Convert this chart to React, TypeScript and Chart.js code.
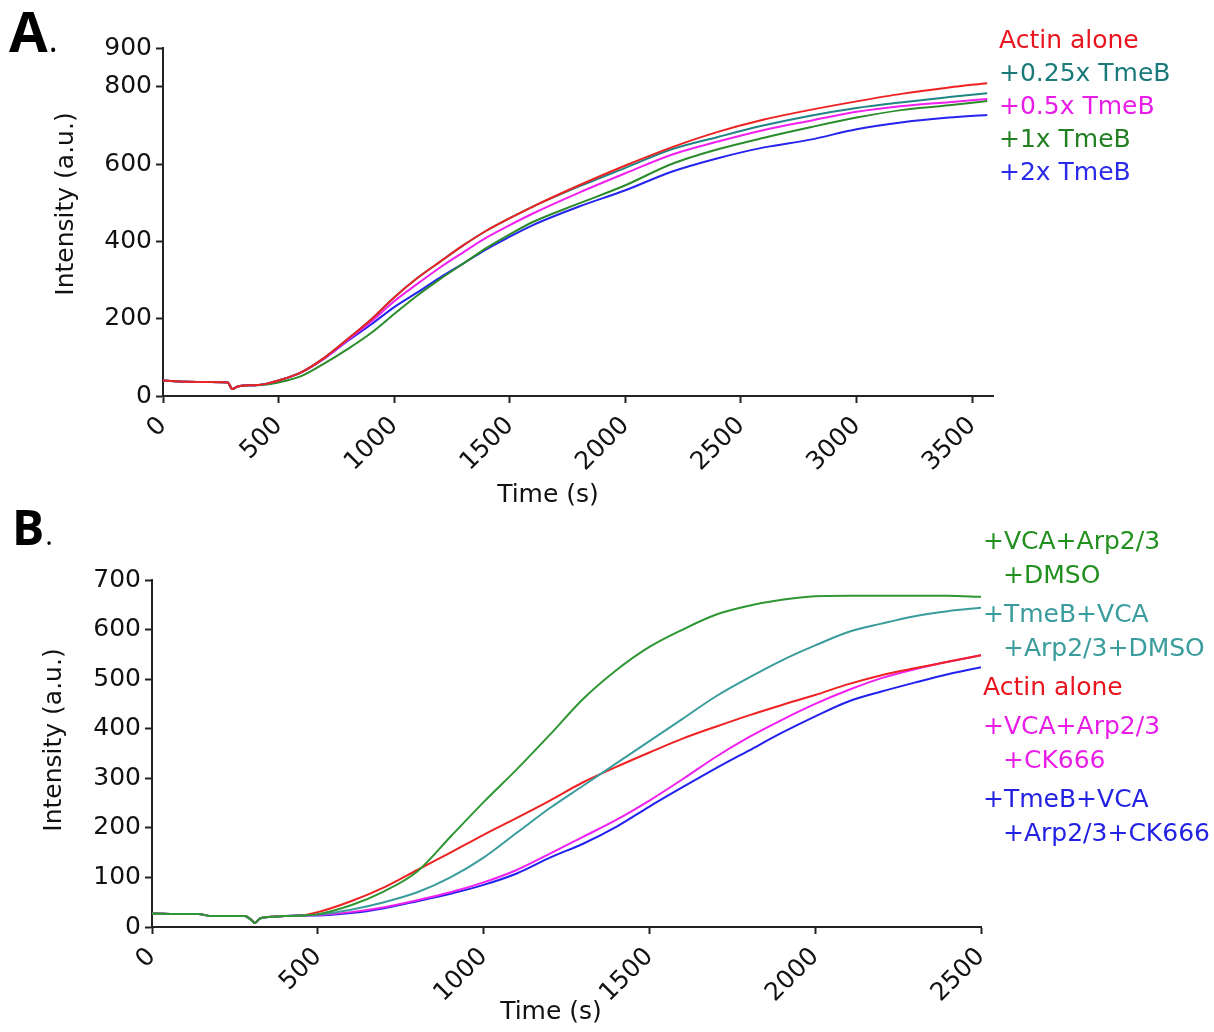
import React, { useEffect, useRef } from "react";
import { Chart, registerables } from "chart.js";

Chart.register(...registerables);

// ---------------- Panel A data ----------------
const A_TIME = [0, 100, 200, 280, 300, 320, 350, 400, 450, 500, 600, 700, 800, 900, 1000, 1100, 1200, 1300, 1400, 1500, 1600, 1800, 2000, 2200, 2400, 2600, 2800, 3000, 3200, 3400, 3565];
const A_ACTIN = [40, 37, 36, 35, 18, 24, 27, 28, 32, 40, 62, 100, 148, 198, 255, 305, 348, 390, 428, 460, 490, 545, 596, 643, 683, 715, 740, 762, 782, 798, 809];
const A_TMEB_025 = [40, 37, 36, 35, 18, 24, 27, 28, 32, 40, 62, 100, 148, 198, 255, 305, 348, 390, 428, 460, 490, 542, 590, 638, 670, 700, 725, 745, 760, 773, 783];
const A_TMEB_05 = [40, 37, 36, 35, 18, 24, 27, 28, 32, 40, 62, 98, 145, 192, 245, 290, 333, 372, 410, 442, 472, 526, 576, 624, 658, 688, 712, 735, 750, 760, 768];
const A_TMEB_1 = [40, 37, 36, 35, 18, 24, 27, 28, 30, 35, 52, 85, 122, 163, 212, 260, 303, 343, 383, 418, 450, 498, 545, 600, 638, 668, 695, 720, 740, 752, 763];
const A_TMEB_2 = [40, 37, 36, 35, 18, 24, 27, 28, 32, 40, 62, 98, 143, 185, 230, 268, 307, 343, 380, 412, 442, 490, 532, 580, 615, 643, 663, 690, 708, 720, 727];
const A_LABELS = ["Actin alone", "+0.25x TmeB", "+0.5x TmeB", "+1x TmeB", "+2x TmeB"];
const A_X_TICKS = [0, 500, 1000, 1500, 2000, 2500, 3000, 3500];
const A_Y_TICKS = [0, 200, 400, 600, 800, 900];

// ---------------- Panel B data ----------------
const B_TIME = [0, 100, 140, 180, 280, 300, 310, 325, 350, 400, 450, 500, 600, 700, 800, 900, 1000, 1100, 1200, 1300, 1400, 1500, 1600, 1700, 1800, 1900, 2000, 2100, 2200, 2300, 2400, 2500];
const B_VCA_DMSO = [27, 26, 26, 22, 22, 14, 8, 17, 20, 22, 23, 26, 44, 72, 112, 182, 252, 318, 388, 460, 518, 565, 600, 630, 648, 660, 667, 668, 668, 668, 668, 666];
const B_TMEB_VCA_DMSO = [27, 26, 26, 22, 22, 14, 8, 17, 20, 22, 23, 25, 35, 50, 70, 100, 140, 190, 240, 285, 330, 375, 420, 465, 503, 538, 568, 595, 612, 627, 637, 644];
const B_ACTIN = [27, 26, 26, 22, 22, 14, 8, 17, 20, 22, 23, 30, 52, 80, 115, 150, 186, 220, 255, 292, 323, 352, 380, 404, 427, 448, 468, 490, 508, 522, 535, 548];
const B_VCA_CK666 = [27, 26, 26, 22, 22, 14, 8, 17, 20, 22, 23, 24, 30, 40, 54, 70, 90, 115, 148, 182, 216, 255, 298, 343, 383, 418, 450, 478, 502, 520, 535, 548];
const B_TMEB_VCA_CK666 = [27, 26, 26, 22, 22, 14, 8, 17, 20, 22, 23, 23, 28, 38, 52, 67, 85, 108, 140, 168, 202, 243, 282, 320, 356, 392, 425, 455, 475, 493, 510, 524];
const B_LABELS = [
  ["+VCA+Arp2/3", "+DMSO"],
  ["+TmeB+VCA", "+Arp2/3+DMSO"],
  ["Actin alone"],
  ["+VCA+Arp2/3", "+CK666"],
  ["+TmeB+VCA", "+Arp2/3+CK666"],
];
const B_X_TICKS = [0, 500, 1000, 1500, 2000, 2500];
const B_Y_TICKS = [0, 100, 200, 300, 400, 500, 600, 700];

const X_TITLE = "Time (s)";
const Y_TITLE = "Intensity (a.u.)";

const FONT = '"DejaVu Sans", "Liberation Sans", Arial, sans-serif';
const FS = 25;

type Spec = {
  time: number[];
  series: { label: string; data: number[]; color: string }[];
  xMax: number;
  yMax: number;
  xTicks: number[];
  yTicks: number[];
  padding: { left: number; right: number; top: number; bottom: number };
  yWidth: number;
  xHeight: number;
  overlay: (ctx: CanvasRenderingContext2D) => void;
};

function axisStyle() {
  return {
    grid: {
      display: true,
      drawOnChartArea: false,
      drawTicks: true,
      tickLength: 7,
      tickWidth: 2,
      tickColor: "#222",
      color: "#222",
    },
    border: { display: true, color: "#222", width: 2 },
  };
}

function buildChart(canvas: HTMLCanvasElement, spec: Spec) {
  return new Chart(canvas, {
    type: "line",
    data: {
      datasets: spec.series.map((s) => ({
        label: s.label,
        data: spec.time.map((t, i) => ({ x: t, y: s.data[i] })),
        borderColor: s.color,
        backgroundColor: s.color,
        borderWidth: 2,
        pointRadius: 0,
        fill: false,
        cubicInterpolationMode: "monotone" as const,
      })),
    },
    options: {
      responsive: false,
      animation: false,
      devicePixelRatio: 1,
      layout: { padding: spec.padding },
      plugins: {
        legend: { display: false },
        tooltip: { enabled: false },
        title: { display: false },
      },
      scales: {
        x: {
          type: "linear",
          min: 0,
          max: spec.xMax,
          afterBuildTicks: (sc: any) => {
            sc.ticks = spec.xTicks.map((v) => ({ value: v }));
          },
          afterFit: (sc: any) => {
            sc.height = spec.xHeight;
          },
          ticks: {
            autoSkip: false,
            minRotation: 45,
            maxRotation: 45,
            padding: 8,
            color: "#111",
            font: { family: FONT, size: FS },
            callback: (v: any) => String(v),
          },
          ...axisStyle(),
        },
        y: {
          type: "linear",
          min: 0,
          max: spec.yMax,
          afterBuildTicks: (sc: any) => {
            sc.ticks = spec.yTicks.map((v) => ({ value: v }));
          },
          afterFit: (sc: any) => {
            sc.width = spec.yWidth;
          },
          ticks: {
            autoSkip: false,
            padding: 4,
            color: "#111",
            font: { family: FONT, size: FS },
            callback: (v: any) => String(v),
          },
          ...axisStyle(),
        },
      },
    } as any,
    plugins: [
      {
        id: "overlay",
        afterDraw(chart: any) {
          const ctx = chart.ctx as CanvasRenderingContext2D;
          ctx.save();
          spec.overlay(ctx);
          ctx.restore();
        },
      },
    ],
  });
}

function drawTitles(ctx: CanvasRenderingContext2D, xt: [number, number], yt: [number, number]) {
  ctx.fillStyle = "#111";
  ctx.font = `${FS}px ${FONT}`;
  ctx.textAlign = "center";
  ctx.textBaseline = "middle";
  ctx.fillText(X_TITLE, xt[0], xt[1]);
  ctx.save();
  ctx.translate(yt[0], yt[1]);
  ctx.rotate(-Math.PI / 2);
  ctx.fillText(Y_TITLE, 0, 0);
  ctx.restore();
}

function drawPanelLabel(ctx: CanvasRenderingContext2D, letter: string, x: number, y: number, size: number) {
  ctx.fillStyle = "#000";
  ctx.textAlign = "left";
  ctx.textBaseline = "alphabetic";
  ctx.font = `700 ${size}px "Open Sans", "Liberation Sans", sans-serif`;
  ctx.fillText(letter, x, y);
  const w = ctx.measureText(letter).width;
  ctx.font = `400 ${Math.round(size * 0.6)}px "Open Sans", "Liberation Sans", sans-serif`;
  ctx.fillText(".", x + w + 1, y);
}

const A_COLORS = ["#ee2222", "#1f8585", "#f020f0", "#2a8c2a", "#2424ee"];
const A_TEXT_COLORS = ["#e8141e", "#1a7a7a", "#e81ee8", "#228022", "#2a2ae8"];
const B_COLORS = ["#2e9632", "#3a9c9c", "#ee2222", "#f020f0", "#2222ee"];
const B_TEXT_COLORS = ["#22901e", "#3a9c9c", "#e8141e", "#e81ee8", "#2222e0"];

export default function App() {
  const refA = useRef<HTMLCanvasElement | null>(null);
  const refB = useRef<HTMLCanvasElement | null>(null);

  useEffect(() => {
    const specA: Spec = {
      time: A_TIME,
      series: [
        { label: A_LABELS[0], data: A_ACTIN, color: A_COLORS[0] },
        { label: A_LABELS[1], data: A_TMEB_025, color: A_COLORS[1] },
        { label: A_LABELS[2], data: A_TMEB_05, color: A_COLORS[2] },
        { label: A_LABELS[3], data: A_TMEB_1, color: A_COLORS[3] },
        { label: A_LABELS[4], data: A_TMEB_2, color: A_COLORS[4] },
      ],
      xMax: 3590,
      yMax: 900,
      xTicks: A_X_TICKS,
      yTicks: A_Y_TICKS,
      padding: { left: 48, right: 221, top: 48, bottom: 7 },
      yWidth: 115,
      xHeight: 117,
      overlay: (ctx) => {
        drawPanelLabel(ctx, "A", 9, 52, 56);
        ctx.font = `${FS}px ${FONT}`;
        ctx.textAlign = "left";
        ctx.textBaseline = "middle";
        A_LABELS.forEach((l, i) => {
          ctx.fillStyle = A_TEXT_COLORS[i];
          ctx.fillText(l, 999, 41 + i * 33);
        });
        drawTitles(ctx, [548, 495], [66, 204]);
      },
    };

    const specB: Spec = {
      time: B_TIME,
      series: [
        { label: B_LABELS[0].join(" "), data: B_VCA_DMSO, color: B_COLORS[0] },
        { label: B_LABELS[1].join(" "), data: B_TMEB_VCA_DMSO, color: B_COLORS[1] },
        { label: B_LABELS[2].join(" "), data: B_ACTIN, color: B_COLORS[2] },
        { label: B_LABELS[3].join(" "), data: B_VCA_CK666, color: B_COLORS[3] },
        { label: B_LABELS[4].join(" "), data: B_TMEB_VCA_CK666, color: B_COLORS[4] },
      ],
      xMax: 2500,
      yMax: 700,
      xTicks: B_X_TICKS,
      yTicks: B_Y_TICKS,
      padding: { left: 36, right: 233, top: 85, bottom: 2 },
      yWidth: 116,
      xHeight: 103,
      overlay: (ctx) => {
        drawPanelLabel(ctx, "B", 12, 50, 48);
        ctx.font = `${FS}px ${FONT}`;
        ctx.textAlign = "left";
        ctx.textBaseline = "middle";
        let line = 0;
        B_LABELS.forEach((lines, e) => {
          lines.forEach((t, j) => {
            ctx.fillStyle = B_TEXT_COLORS[e];
            ctx.fillText(t, 983 + (j > 0 ? 20 : 0), 47 + line * 34 + e * 5);
            line++;
          });
        });
        drawTitles(ctx, [551, 517], [54, 245]);
      },
    };

    const ca = refA.current ? buildChart(refA.current, specA) : null;
    const cb = refB.current ? buildChart(refB.current, specB) : null;
    return () => {
      ca?.destroy();
      cb?.destroy();
    };
  }, []);

  return (
    <div style={{ position: "absolute", left: 0, top: 0, width: 1214, height: 1032, background: "#fff", overflow: "hidden" }}>
      <canvas ref={refA} width={1214} height={520} style={{ position: "absolute", left: 0, top: 0, width: 1214, height: 520 }} />
      <canvas ref={refB} width={1214} height={537} style={{ position: "absolute", left: 0, top: 495, width: 1214, height: 537 }} />
    </div>
  );
}
